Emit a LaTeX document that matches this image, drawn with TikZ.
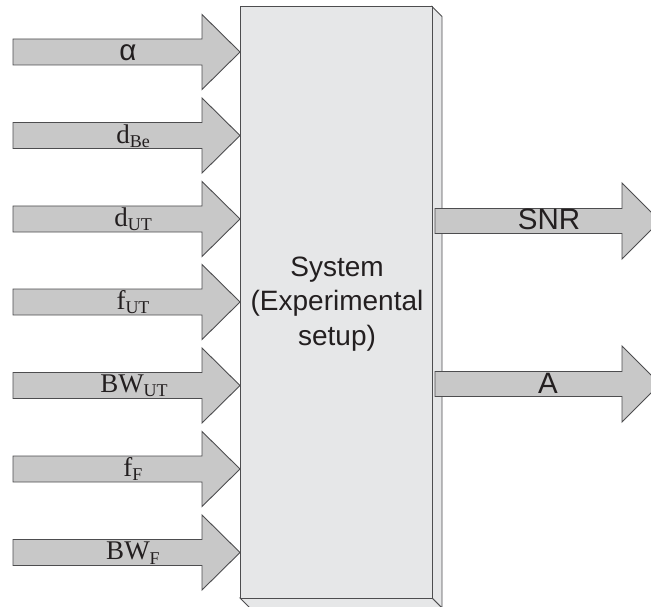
\documentclass[tikz,border=0pt]{standalone}
\usepackage{fontspec}
\setmainfont{Liberation Sans}
\newfontfamily\seriffont{Liberation Serif}
\definecolor{arrowfill}{HTML}{C8C8C8}
\definecolor{boxfill}{HTML}{E6E7E8}
\definecolor{lineclr}{HTML}{4D4D4F}
\definecolor{txt}{HTML}{231F20}
\tikzset{
  blockarrow/.style={fill=arrowfill, draw=lineclr, line width=0.9pt, line join=miter},
  boxface/.style={fill=boxfill, draw=lineclr, line width=0.9pt, line join=miter},
  sanslabel/.style={text=txt, inner sep=0pt, font=\fontsize{29.5}{30}\selectfont},
  seriflabel/.style={text=txt, inner sep=0pt, font=\seriffont\fontsize{27}{30}\selectfont},
  systext/.style={text=txt, align=center, inner sep=0pt, font=\fontsize{28}{34.5}\selectfont}
}
\newcommand{\subl}[2]{#1\raisebox{-0.16em}{\fontsize{18}{18}\selectfont #2}}
\newcommand{\inarrow}[1]{%
  \draw[blockarrow] (13,#1-13) -- (202,#1-13) -- (202,#1-37.5) -- (240,#1) -- (202,#1+37.5) -- (202,#1+13) -- (13,#1+13) -- cycle;}
\newcommand{\outarrow}[1]{%
  \draw[blockarrow] (435,#1-12.5) -- (622,#1-12.5) -- (622,#1-38) -- (660,#1) -- (622,#1+38) -- (622,#1+12.5) -- (435,#1+12.5) -- cycle;}
\begin{document}
\begin{tikzpicture}[x=1pt,y=-1pt]
\useasboundingbox (0,0) rectangle (651,607);
\begin{scope}
\clip (0,0) rectangle (651,607);
% system box
\draw[boxface] (432,6.5) -- (442,16.5) -- (442,608) -- (432,598) -- cycle;
\draw[boxface] (240,598) -- (432,598) -- (442,608) -- (250,608) -- cycle;
\draw[boxface] (240,6.5) rectangle (432,598);
\node[systext] (sys) at (337,304) {System\\(Experimental\\setup)};
% input arrows
\inarrow{52}
\inarrow{135.5}
\inarrow{219}
\inarrow{302}
\inarrow{385.5}
\inarrow{469}
\inarrow{552.5}
\node[sanslabel] (alpha) at (128,53) {α};
\node[seriflabel] (dbe) at (133,136) {\subl{d}{Be}};
\node[seriflabel] (dut) at (133,219) {\subl{d}{UT}};
\node[seriflabel] (fut) at (133,302) {\subl{f}{UT}};
\node[seriflabel] (bwut) at (134,386) {\subl{BW}{UT}};
\node[seriflabel] (ff) at (133,469) {\subl{f}{F}};
\node[seriflabel] (bwf) at (133,553) {\subl{BW}{F}};
% output arrows
\outarrow{221}
\outarrow{384}
\node[sanslabel] (snr) at (549,219.5) {SNR};
\node[sanslabel] (a) at (548,383) {A};
\end{scope}
\end{tikzpicture}
\end{document}
